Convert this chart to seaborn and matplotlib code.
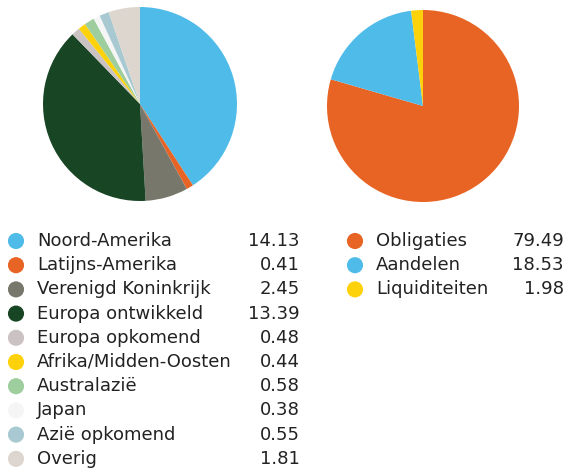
import matplotlib
matplotlib.use("Agg")
import matplotlib.pyplot as plt
import seaborn as sns

# regio's (linker taart)
regio_labels = ["Noord-Amerika", "Latijns-Amerika", "Verenigd Koninkrijk",
                "Europa ontwikkeld", "Europa opkomend", "Afrika/Midden-Oosten",
                "Australazië", "Japan", "Azië opkomend", "Overig"]
regio_waarden = [14.13, 0.41, 2.45, 13.39, 0.48, 0.44, 0.58, 0.38, 0.55, 1.81]
regio_kleuren = ["#4FBBE8", "#E86424", "#77776C", "#184524", "#CBC2C3",
                 "#FDD20A", "#9ECD9E", "#F5F5F5", "#A8C9D1", "#DDD6CE"]

# activaklassen (rechter taart)
klasse_labels = ["Obligaties", "Aandelen", "Liquiditeiten"]
klasse_waarden = [79.49, 18.53, 1.98]
klasse_kleuren = ["#E86424", "#4FBBE8", "#FDD20A"]

sns.set_theme(style="white")
plt.rcParams["font.family"] = ["DejaVu Sans"]

W, H = 567, 468
fig = plt.figure(figsize=(W / 100, H / 100), dpi=100)


def px_axes(cx, cy, r):
    return fig.add_axes([(cx - r) / W, (H - cy - r) / H, 2 * r / W, 2 * r / H])


ax1 = px_axes(140, 104, 97)
ax1.pie(regio_waarden, colors=regio_kleuren, startangle=90, counterclock=False,
        wedgeprops={"linewidth": 0})
ax1.set_xlim(-1, 1)
ax1.set_ylim(-1, 1)
ax1.set_aspect("equal")

ax2 = px_axes(423, 106, 96)
ax2.pie(klasse_waarden, colors=klasse_kleuren, startangle=90, counterclock=False,
        wedgeprops={"linewidth": 0})
ax2.set_xlim(-1, 1)
ax2.set_ylim(-1, 1)
ax2.set_aspect("equal")

# legenda's
leg = fig.add_axes([0, 0, 1, 1])
leg.set_xlim(0, W)
leg.set_ylim(H, 0)
leg.axis("off")


def legenda(labels, waarden, kleuren, x_dot, x_txt, x_num, y0, dy=24.2):
    for i, (lab, val, kl) in enumerate(zip(labels, waarden, kleuren)):
        y = y0 + i * dy
        leg.scatter([x_dot], [y], s=135, color=kl, edgecolor="none")
        leg.text(x_txt, y, lab, fontsize=13, color="#222222", va="center", ha="left")
        leg.text(x_num, y, f"{val:.2f}", fontsize=13, color="#222222",
                 va="center", ha="right")


legenda(regio_labels, regio_waarden, regio_kleuren, 16, 37, 300, 241)
legenda(klasse_labels, klasse_waarden, klasse_kleuren, 355, 376, 564, 241)

fig.savefig("out.png", dpi=100)
